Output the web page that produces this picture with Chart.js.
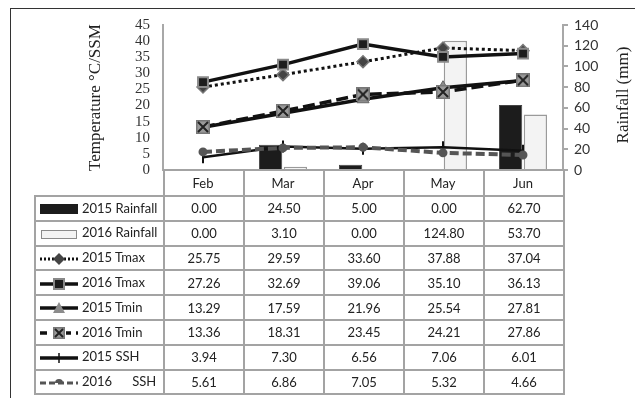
<!DOCTYPE html>
<html>
<head>
<meta charset="utf-8">
<script src="https://cdn.jsdelivr.net/npm/chart.js@4.4.1/dist/chart.umd.min.js"></script>
<style>
  html, body { margin: 0; padding: 0; background: #fff; }
  #wrap { position: relative; width: 635px; height: 398px; overflow: hidden; background: #fff; }
  #c { position: absolute; left: 0; top: 0; }
  #frame { position: absolute; left: 10px; top: 8px; width: 640px; height: 400px;
           border-top: 1.5px solid #333; border-left: 1.5px solid #333; }
  #rtitle { position: absolute; left: 623px; top: 95px; transform: translate(-50%, -50%) rotate(-90deg);
            font-family: "Liberation Serif", serif; font-size: 17px; color: #222; white-space: nowrap; }
  table { position: absolute; left: 34px; top: 169px; border-collapse: collapse; table-layout: fixed;
          font-family: Lato, "Liberation Sans", sans-serif; font-size: 13px; color: #222; }
  td { border: 2px solid #a3a3a3; padding: 0; text-align: center; height: 22.8px; background: transparent; }
  td.lg { text-align: left; white-space: pre; padding-left: 3px; overflow: hidden; }
  td.lg canvas { vertical-align: middle; margin-right: 3px; }
  tr.hd td { height: 24px; }
  tr.hd td.blank { border: none; }
</style>
</head>
<body>
<div id="wrap">
  <canvas id="c" width="635" height="398"></canvas>
  <div id="frame"></div>
  <div id="rtitle">Rainfall (mm)</div>
  <table id="tbl"></table>
</div>
<script>
// ---- data ----
const months   = ['Feb', 'Mar', 'Apr', 'May', 'Jun'];
const rain2015 = [0.00, 24.50, 5.00, 0.00, 62.70];
const rain2016 = [0.00, 3.10, 0.00, 124.80, 53.70];
const tmax2015 = [25.75, 29.59, 33.60, 37.88, 37.04];
const tmax2016 = [27.26, 32.69, 39.06, 35.10, 36.13];
const tmin2015 = [13.29, 17.59, 21.96, 25.54, 27.81];
const tmin2016 = [13.36, 18.31, 23.45, 24.21, 27.86];
const ssh2015  = [3.94, 7.30, 6.56, 7.06, 6.01];
const ssh2016  = [5.61, 6.86, 7.05, 5.32, 4.66];
const tempTicks = [0, 45, 5];     // min, max, step
const rainTicks = [0, 140, 20];   // min, max, step
const seriesNames = ['2015 Rainfall', '2016 Rainfall', '2015 Tmax', '2016 Tmax',
                     '2015 Tmin', '2016 Tmin', '2015 SSH', '2016      SSH'];

// custom boxed-X marker
function boxX(size) {
  const c = document.createElement('canvas');
  c.width = size; c.height = size;
  const g = c.getContext('2d');
  g.fillStyle = '#9a9a9a'; g.fillRect(0, 0, size, size);
  g.strokeStyle = '#777'; g.lineWidth = 1.5; g.strokeRect(0.75, 0.75, size - 1.5, size - 1.5);
  g.strokeStyle = '#222'; g.lineWidth = 2;
  g.beginPath(); g.moveTo(2, 2); g.lineTo(size - 2, size - 2);
  g.moveTo(size - 2, 2); g.lineTo(2, size - 2); g.stroke();
  return c;
}
const xMarker = boxX(14);

const datasets = [
  { type: 'line', label: '2015 Tmax', data: tmax2015, yAxisID: 'y', order: 2,
    borderColor: '#111', borderWidth: 3, borderDash: [3, 3],
    pointStyle: 'rectRot', pointRadius: 6, pointBackgroundColor: '#444', pointBorderColor: '#777', pointBorderWidth: 1.5 },
  { type: 'line', label: '2016 Tmax', data: tmax2016, yAxisID: 'y', order: 1,
    borderColor: '#111', borderWidth: 3.5,
    pointStyle: 'rect', pointRadius: 7, pointBackgroundColor: '#1d1d1d', pointBorderColor: '#8a8a8a', pointBorderWidth: 2 },
  { type: 'line', label: '2015 Tmin', data: tmin2015, yAxisID: 'y', order: 4,
    borderColor: '#111', borderWidth: 3.5,
    pointStyle: 'triangle', pointRadius: 7, pointBackgroundColor: '#8c8c8c', pointBorderColor: '#666', pointBorderWidth: 1 },
  { type: 'line', label: '2016 Tmin', data: tmin2016, yAxisID: 'y', order: 3,
    borderColor: '#111', borderWidth: 3.5, borderDash: [12, 5],
    pointStyle: xMarker, pointRadius: 7 },
  { type: 'line', label: '2015 SSH', data: ssh2015, yAxisID: 'y', order: 6,
    borderColor: '#111', borderWidth: 2.5,
    pointStyle: 'line', pointRotation: 90, pointRadius: 6, pointBorderColor: '#111', pointBorderWidth: 2 },
  { type: 'line', label: '2016 SSH', data: ssh2016, yAxisID: 'y', order: 5,
    borderColor: '#555', borderWidth: 4, borderDash: [9, 4],
    pointStyle: 'circle', pointRadius: 2.5, pointBackgroundColor: '#555', pointBorderColor: '#555' },
  { type: 'bar', label: '2015 Rainfall', data: rain2015, yAxisID: 'y1', order: 10,
    backgroundColor: '#1c1c1c', borderColor: '#444', borderWidth: 1,
    categoryPercentage: 0.62, barPercentage: 0.94 },
  { type: 'bar', label: '2016 Rainfall', data: rain2016, yAxisID: 'y1', order: 10,
    backgroundColor: '#f3f3f3', borderColor: '#9a9a9a', borderWidth: 1.5,
    categoryPercentage: 0.62, barPercentage: 0.94 }
];

new Chart(document.getElementById('c'), {
  data: { labels: months, datasets: datasets },
  options: {
    responsive: false, animation: false, devicePixelRatio: 1,
    layout: { padding: { top: 25, left: 0, right: 0, bottom: 0 } },
    plugins: { legend: { display: false }, tooltip: { enabled: false } },
    elements: { line: { tension: 0 } },
    scales: {
      x: {
        type: 'category', offset: true,
        grid: { display: false, drawTicks: false },
        border: { display: false },
        ticks: { color: '#222', font: { family: 'Lato', size: 13 }, padding: 6 },
        afterFit: (s) => { s.height = 228; }
      },
      y: {
        position: 'left', min: tempTicks[0], max: tempTicks[1],
        grid: { display: false, drawTicks: false },
        border: { display: true, color: '#a8a8a8', width: 2 },
        ticks: { stepSize: tempTicks[2], autoSkip: false, color: '#333', padding: 13,
                 font: { family: 'Liberation Serif', size: 15 } },
        title: { display: true, text: 'Temperature °C/SSM', color: '#222',
                 font: { family: 'Liberation Serif', size: 17 }, padding: { top: 85, bottom: 0 } },
        afterFit: (s) => { s.width = 163; }
      },
      y1: {
        position: 'right', min: rainTicks[0], max: rainTicks[1],
        grid: { drawOnChartArea: false, drawTicks: true, tickLength: 5, color: '#a8a8a8', lineWidth: 2 },
        border: { display: true, color: '#a8a8a8', width: 2 },
        ticks: { stepSize: rainTicks[2], autoSkip: false, color: '#333', padding: 6,
                 font: { family: 'Lato', size: 14 } },
        afterFit: (s) => { s.width = 72; }
      }
    }
  }
});

// ---- table with legend keys ----
function drawKey(name) {
  const c = document.createElement('canvas');
  c.width = 40; c.height = 16;
  const g = c.getContext('2d');
  const m = 8;
  function line(color, w, dash) {
    g.save(); g.strokeStyle = color; g.lineWidth = w; g.setLineDash(dash || []);
    g.beginPath(); g.moveTo(1, m); g.lineTo(39, m); g.stroke(); g.restore();
  }
  switch (name) {
    case '2015 Rainfall':
      g.fillStyle = '#1c1c1c'; g.fillRect(1, 3, 38, 10); break;
    case '2016 Rainfall':
      g.fillStyle = '#f3f3f3'; g.fillRect(2, 4, 36, 9);
      g.strokeStyle = '#8a8a8a'; g.lineWidth = 1; g.strokeRect(2.5, 4.5, 35, 8); break;
    case '2015 Tmax':
      line('#111', 3, [2, 2]);
      g.fillStyle = '#444'; g.beginPath(); g.moveTo(20, 2); g.lineTo(26, 8); g.lineTo(20, 14); g.lineTo(14, 8);
      g.closePath(); g.fill(); break;
    case '2016 Tmax':
      line('#111', 3.5);
      g.fillStyle = '#888'; g.fillRect(14, 2, 12, 12); g.fillStyle = '#1d1d1d'; g.fillRect(16, 4, 8, 8); break;
    case '2015 Tmin':
      line('#111', 3.5);
      g.fillStyle = '#8c8c8c'; g.beginPath(); g.moveTo(20, 2); g.lineTo(26, 13); g.lineTo(14, 13);
      g.closePath(); g.fill(); break;
    case '2016 Tmin':
      line('#111', 3.5, [7, 5]);
      g.clearRect(13, 0, 14, 16); g.drawImage(boxX(12), 14, 2); break;
    case '2015 SSH':
      line('#111', 3.5);
      g.strokeStyle = '#111'; g.lineWidth = 1.5; g.beginPath(); g.moveTo(20, 3); g.lineTo(20, 13); g.stroke(); break;
    default:
      line('#555', 3, [6, 3]);
      g.fillStyle = '#555'; g.beginPath(); g.arc(20, 8, 4, Math.PI, 0); g.fill(); break;
  }
  return c;
}

const tbl = document.getElementById('tbl');
const colgroup = document.createElement('colgroup');
[129, 80, 80, 80, 80, 80].forEach(w => { const col = document.createElement('col'); col.style.width = w + 'px'; colgroup.appendChild(col); });
tbl.appendChild(colgroup);
const hr = document.createElement('tr'); hr.className = 'hd';
const blank = document.createElement('td'); blank.className = 'blank'; hr.appendChild(blank);
months.forEach(() => { hr.appendChild(document.createElement('td')); });
tbl.appendChild(hr);
const rows = [rain2015, rain2016, tmax2015, tmax2016, tmin2015, tmin2016, ssh2015, ssh2016];
rows.forEach((vals, i) => {
  const tr = document.createElement('tr');
  const lg = document.createElement('td'); lg.className = 'lg';
  const key = seriesNames[i].replace(/\s+/g, ' ');
  lg.appendChild(drawKey(key));
  lg.appendChild(document.createTextNode(seriesNames[i]));
  tr.appendChild(lg);
  vals.forEach(v => { const td = document.createElement('td'); td.textContent = v.toFixed(2); tr.appendChild(td); });
  tbl.appendChild(tr);
});
</script>
</body>
</html>
